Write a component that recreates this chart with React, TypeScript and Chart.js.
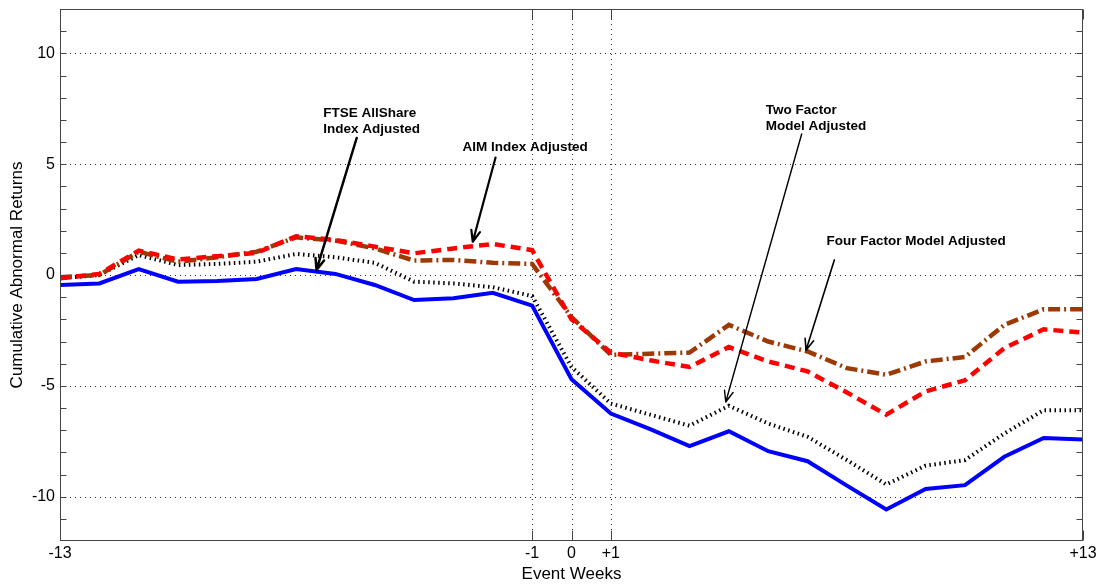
import React, { useEffect, useRef } from 'react';
import { Chart, registerables } from 'chart.js';

Chart.register(...registerables);

// ---- Data ----
const weeks = [-13, -12, -11, -10, -9, -8, -7, -6, -5, -4, -3, -2, -1, 0, 1, 2, 3, 4, 5, 6, 7, 8, 9, 10, 11, 12, 13];

const ftseAllShareAdjusted = [-0.45, -0.38, 0.27, -0.3, -0.27, -0.18, 0.27, 0.05, -0.45, -1.13, -1.05, -0.8, -1.38, -4.7, -6.25, -6.95, -7.72, -7.05, -7.95, -8.4, -9.5, -10.58, -9.65, -9.48, -8.2, -7.35, -7.42];

const aimIndexAdjusted = [-0.15, 0.05, 1.1, 0.7, 0.85, 1.0, 1.75, 1.58, 1.28, 0.98, 1.2, 1.4, 1.12, -2.0, -3.5, -3.85, -4.15, -3.25, -3.9, -4.35, -5.3, -6.3, -5.25, -4.75, -3.3, -2.45, -2.6];

const twoFactorAdjusted = [-0.15, 0.0, 0.9, 0.45, 0.5, 0.6, 0.95, 0.8, 0.55, -0.3, -0.38, -0.55, -0.95, -4.15, -5.8, -6.3, -6.8, -5.9, -6.7, -7.3, -8.35, -9.45, -8.6, -8.35, -7.15, -6.1, -6.1];

const fourFactorAdjusted = [-0.1, 0.0, 1.05, 0.6, 0.8, 1.05, 1.7, 1.55, 1.2, 0.65, 0.68, 0.55, 0.5, -1.9, -3.6, -3.55, -3.5, -2.25, -3.0, -3.45, -4.2, -4.5, -3.9, -3.7, -2.25, -1.55, -1.55];

const xTickValues = [-13, -1, 0, 1, 13];
const xTickLabels = ['-13', '-1', '0', '+1', '+13'];
const xGridValues = [-1, 0, 1];
const yTickValues = [-10, -5, 0, 5, 10];
const yMinorTickValues = [-11, -10, -9, -8, -7, -6, -5, -4, -3, -2, -1, 0, 1, 2, 3, 4, 5, 6, 7, 8, 9, 10, 11];

// Annotation labels and arrows, in data units
const annotationTexts = [
  ['FTSE AllShare', 'Index Adjusted'],
  ['AIM Index Adjusted'],
  ['Two Factor', 'Model Adjusted'],
  ['Four Factor Model Adjusted'],
];
const annotationAnchors = [
  [-6.31, 7.15],
  [-2.77, 5.6],
  [4.94, 7.28],
  [6.48, 1.36],
];
const arrowStarts = [
  [-5.46, 6.18],
  [-1.93, 5.3],
  [5.85, 6.36],
  [6.68, 0.68],
];
const arrowTips = [
  [-6.48, 0.23],
  [-2.51, 1.5],
  [3.92, -5.73],
  [5.96, -3.39],
];
const arrowWidths = [2.5, 2.2, 1.4, 1.6];

const FONT = '"Liberation Sans", Arial, Helvetica, sans-serif';

const framePlugin = {
  id: 'matlabFrame',
  beforeDatasetsDraw(chart: any) {
    const { ctx, chartArea: a, scales } = chart;
    const x = scales.x;
    const y = scales.y;
    ctx.save();
    ctx.strokeStyle = '#333';
    ctx.lineWidth = 1;
    ctx.setLineDash([1, 4]);
    for (const v of yTickValues) {
      const py = Math.round(y.getPixelForValue(v)) + 0.5;
      ctx.beginPath();
      ctx.moveTo(a.left, py);
      ctx.lineTo(a.right, py);
      ctx.stroke();
    }
    for (const v of xGridValues) {
      const px = Math.round(x.getPixelForValue(v)) + 0.5;
      ctx.beginPath();
      ctx.moveTo(px, a.top);
      ctx.lineTo(px, a.bottom);
      ctx.stroke();
    }
    ctx.restore();
  },
  afterDatasetsDraw(chart: any) {
    const { ctx, chartArea: a, scales } = chart;
    const x = scales.x;
    const y = scales.y;
    ctx.save();
    ctx.setLineDash([]);
    ctx.strokeStyle = '#444';
    ctx.lineWidth = 1;
    const l = Math.round(a.left) + 0.5;
    const r = Math.round(a.right) - 0.5;
    const t = Math.round(a.top) + 0.5;
    const b = Math.round(a.bottom) - 0.5;
    ctx.strokeRect(l, t, r - l, b - t);
    ctx.beginPath();
    for (const v of yMinorTickValues) {
      const py = Math.round(y.getPixelForValue(v)) + 0.5;
      ctx.moveTo(l, py);
      ctx.lineTo(l + 6, py);
      ctx.moveTo(r, py);
      ctx.lineTo(r - 6, py);
    }
    for (const v of xTickValues) {
      const px = Math.round(x.getPixelForValue(v)) + 0.5;
      ctx.moveTo(px, b);
      ctx.lineTo(px, b - 10);
      ctx.moveTo(px, t);
      ctx.lineTo(px, t + 10);
    }
    ctx.stroke();
    ctx.restore();
  },
  afterDraw(chart: any) {
    const { ctx, scales } = chart;
    const x = scales.x;
    const y = scales.y;
    ctx.save();
    ctx.fillStyle = '#000';
    ctx.font = `bold 13.5px ${FONT}`;
    ctx.textAlign = 'left';
    ctx.textBaseline = 'alphabetic';
    annotationTexts.forEach((lines, i) => {
      const px = x.getPixelForValue(annotationAnchors[i][0]);
      const py = y.getPixelForValue(annotationAnchors[i][1]);
      lines.forEach((line, j) => ctx.fillText(line, px, py + j * 16));
    });
    ctx.strokeStyle = '#000';
    ctx.lineCap = 'round';
    ctx.lineJoin = 'round';
    arrowStarts.forEach((s, i) => {
      const x1 = x.getPixelForValue(s[0]);
      const y1 = y.getPixelForValue(s[1]);
      const x2 = x.getPixelForValue(arrowTips[i][0]);
      const y2 = y.getPixelForValue(arrowTips[i][1]);
      ctx.lineWidth = arrowWidths[i];
      ctx.beginPath();
      ctx.moveTo(x1, y1);
      ctx.lineTo(x2, y2);
      const ang = Math.atan2(y2 - y1, x2 - x1);
      const hl = 12;
      const ha = 0.38;
      ctx.moveTo(x2 - hl * Math.cos(ang - ha), y2 - hl * Math.sin(ang - ha));
      ctx.lineTo(x2, y2);
      ctx.lineTo(x2 - hl * Math.cos(ang + ha), y2 - hl * Math.sin(ang + ha));
      ctx.stroke();
    });
    ctx.restore();
  },
};

export default function App() {
  const canvasRef = useRef<HTMLCanvasElement | null>(null);

  useEffect(() => {
    const canvas = canvasRef.current;
    if (!canvas) return;
    const toPoints = (vals: number[]) => weeks.map((w, i) => ({ x: w, y: vals[i] }));
    const chart = new Chart(canvas, {
      type: 'line',
      data: {
        datasets: [
          {
            label: 'FTSE AllShare Index Adjusted',
            data: toPoints(ftseAllShareAdjusted),
            borderColor: '#0000FF',
            borderWidth: 4,
            pointRadius: 0,
            tension: 0,
            order: 1,
          },
          {
            label: 'AIM Index Adjusted',
            data: toPoints(aimIndexAdjusted),
            borderColor: '#FF0000',
            borderWidth: 4.5,
            borderDash: [10, 6],
            pointRadius: 0,
            tension: 0,
            order: 2,
          },
          {
            label: 'Four Factor Model Adjusted',
            data: toPoints(fourFactorAdjusted),
            borderColor: '#9C3A06',
            borderWidth: 4.5,
            borderDash: [12, 4, 2, 4],
            pointRadius: 0,
            tension: 0,
            order: 3,
          },
          {
            label: 'Two Factor Model Adjusted',
            data: toPoints(twoFactorAdjusted),
            borderColor: '#000000',
            borderWidth: 4,
            borderDash: [1.5, 3.5],
            borderCapStyle: 'butt',
            pointRadius: 0,
            tension: 0,
            order: 4,
          },
        ],
      },
      options: {
        animation: false,
        responsive: false,
        maintainAspectRatio: false,
        layout: { padding: { left: 0, right: 21, top: 9, bottom: 0 } },
        plugins: {
          legend: { display: false },
          tooltip: { enabled: false },
        },
        scales: {
          x: {
            type: 'linear',
            min: -13,
            max: 13,
            afterBuildTicks: (scale: any) => {
              scale.ticks = xTickValues.map((v) => ({ value: v }));
            },
            afterFit: (scale: any) => {
              scale.height = 43;
              scale.paddingLeft = 0;
              scale.paddingRight = 0;
              scale.paddingTop = 0;
              scale.paddingBottom = 0;
            },
            ticks: {
              autoSkip: false,
              maxRotation: 0,
              padding: 3,
              color: '#000',
              font: { family: FONT, size: 16 },
              callback: (v: any) => {
                const i = xTickValues.indexOf(Number(v));
                return i >= 0 ? xTickLabels[i] : '';
              },
            },
            grid: { display: false, drawTicks: false },
            border: { display: false },
            title: {
              display: true,
              text: 'Event Weeks',
              color: '#000',
              font: { family: FONT, size: 17, lineHeight: 1 },
              padding: { top: 0, bottom: 1 },
            },
          },
          y: {
            type: 'linear',
            min: -12,
            max: 12,
            afterBuildTicks: (scale: any) => {
              scale.ticks = yTickValues.map((v) => ({ value: v }));
            },
            afterFit: (scale: any) => {
              scale.width = 60;
              scale.paddingLeft = 0;
              scale.paddingRight = 0;
              scale.paddingTop = 0;
              scale.paddingBottom = 0;
            },
            ticks: {
              padding: 5,
              color: '#000',
              font: { family: FONT, size: 16 },
            },
            grid: { display: false, drawTicks: false },
            border: { display: false },
            title: {
              display: true,
              text: 'Cumulative Abnormal Returns',
              color: '#000',
              font: { family: FONT, size: 17, lineHeight: 1 },
              padding: { top: 9, bottom: 0 },
            },
          },
        },
      },
      plugins: [framePlugin],
    } as any);
    return () => chart.destroy();
  }, []);

  return (
    <div style={{ position: 'absolute', left: 0, top: 0, width: 1104, height: 584, background: '#fff' }}>
      <canvas ref={canvasRef} width={1104} height={584} style={{ display: 'block' }} />
    </div>
  );
}
